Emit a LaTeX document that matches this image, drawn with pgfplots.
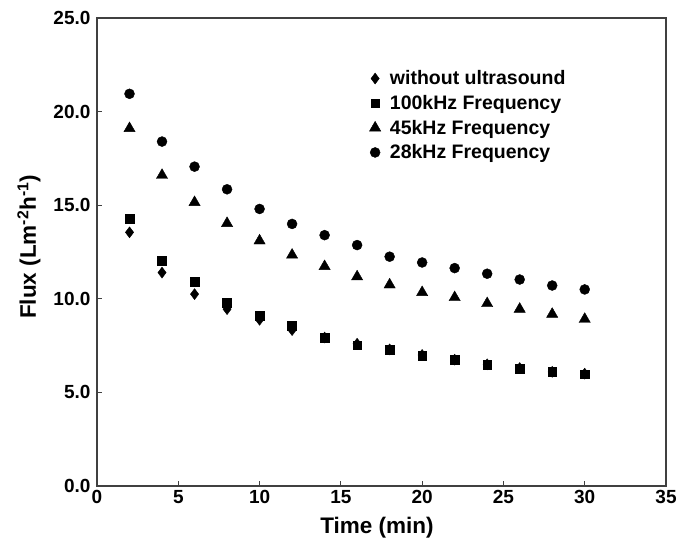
\documentclass[border=0pt]{standalone}
\usepackage{fontspec}
\setmainfont{Liberation Sans}
\usepackage{pgfplots}
\pgfplotsset{compat=1.18}
\begin{document}
\begin{tikzpicture}
\begin{axis}[
  scale only axis,
  width=569pt, height=468pt,
  xmin=0, xmax=35, ymin=0, ymax=25,
  xtick={0,5,...,35}, ytick={0,5,...,25},
  tick align=inside, xtick pos=left, ytick pos=left,
  major tick length=5pt,
  axis line style={line width=1.1pt, black!75},
  tick style={line width=0.8pt, black!75},
  /pgf/number format/assume math mode=true,
  ticklabel style={font=\fontsize{19}{22}\selectfont\bfseries},
  xticklabel style={yshift=-1pt},
  yticklabel style={xshift=-3pt, /pgf/number format/fixed, /pgf/number format/fixed zerofill, /pgf/number format/precision=1},
  xlabel={Time (min)}, ylabel={Flux (Lm\textsuperscript{-2}h\textsuperscript{-1})},
  label style={font=\fontsize{22.5}{25}\selectfont\bfseries},
  xlabel style={at={(axis description cs:0.492,-0.09)}, anchor=center},
  ylabel style={at={(axis description cs:-0.1195,0.511)}, anchor=center},
  legend style={at={(axis cs:16.75,22.3)}, anchor=north west, draw=none, fill=none,
    font=\fontsize{19.5}{21}\selectfont\bfseries, row sep=5pt, inner sep=0pt},
  legend cell align=left,
  legend image code/.code={\path[draw=none,fill=none] (0cm,0cm) -- (0.6cm,0cm); \draw plot coordinates {(0.15cm,0cm)};},
]
\addplot[only marks, mark=diamond*, mark size=5.5pt, black] coordinates {
(2,13.55) (4,11.4) (6,10.25) (8,9.45) (10,8.88) (12,8.33) (14,7.93) (16,7.6)
(18,7.3) (20,7.0) (22,6.75) (24,6.5) (26,6.3) (28,6.1) (30,6.0)};
\addlegendentry{without ultrasound}
\addplot[only marks, mark=square*, mark size=4.4pt, black] coordinates {
(2,14.3) (4,12.03) (6,10.9) (8,9.8) (10,9.09) (12,8.56) (14,7.93) (16,7.52)
(18,7.26) (20,6.95) (22,6.74) (24,6.5) (26,6.27) (28,6.11) (30,5.97)};
\addlegendentry{100kHz Frequency}
\addplot[only marks, mark=triangle*, mark size=6.5pt, black] coordinates {
(2,19.1) (4,16.6) (6,15.15) (8,14.03) (10,13.1) (12,12.34) (14,11.73) (16,11.18)
(18,10.75) (20,10.34) (22,10.07) (24,9.75) (26,9.45) (28,9.18) (30,8.91)};
\addlegendentry{45kHz Frequency}
\addplot[only marks, mark=*, mark size=5pt, black] coordinates {
(2,20.95) (4,18.4) (6,17.06) (8,15.85) (10,14.8) (12,14.0) (14,13.4) (16,12.87)
(18,12.25) (20,11.94) (22,11.64) (24,11.34) (26,11.03) (28,10.71) (30,10.5)};
\addlegendentry{28kHz Frequency}
\end{axis}
\pgfresetboundingbox
\path ([xshift=-97pt,yshift=-55pt]current axis.south west) rectangle ([xshift=12pt,yshift=18pt]current axis.north east);
\end{tikzpicture}
\end{document}
